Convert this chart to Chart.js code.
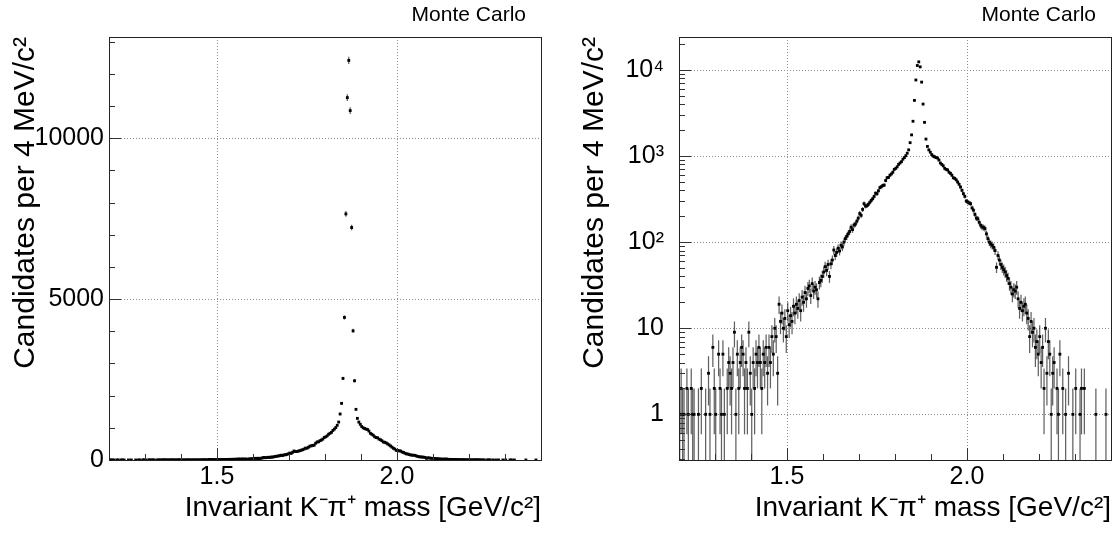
<!DOCTYPE html>
<html><head><meta charset="utf-8">
<script src="https://cdn.jsdelivr.net/npm/chart.js@4.4.1/dist/chart.umd.min.js"></script>
<style>
html,body{margin:0;padding:0;background:#fff;}
body{width:1118px;height:534px;position:relative;overflow:hidden;}
.panel{position:absolute;top:0;width:559px;height:534px;}
</style></head><body>
<div class="panel" style="left:0"><canvas id="cLin" width="559" height="534"></canvas></div>
<div class="panel" style="left:559px"><canvas id="cLog" width="559" height="534"></canvas></div>
<script>
// Histogram binning: 300 bins of 4 MeV/c^2 from 1.2 to 2.4 GeV/c^2
const massMin = 1.2, massMax = 2.4, binWidth = 0.004;
// Candidates per bin
const counts = [
  1,2,1,1,0,2,1,0,2,1,
  1,0,0,1,0,2,0,0,1,0,
  3,1,0,6,2,1,0,5,2,1,
  5,1,0,2,4,3,2,4,9,1,
  5,2,4,6,5,2,4,2,9,3,
  1,4,2,5,4,6,4,2,5,4,
  6,3,6,4,8,5,10,8,3,19,
  12,15,10,13,8,16,11,14,12,18,
  15,19,17,21,16,23,20,26,22,29,
  31,24,33,27,30,28,22,34,36,40,
  45,52,47,55,40,56,62,81,70,76,
  85,79,92,88,100,110,117,125,133,149,
  140,158,162,175,190,215,205,240,280,262,
  265,275,290,305,320,340,370,365,395,430,
  440,455,460,520,560,565,600,620,650,700,
  720,750,800,830,860,920,960,1010,1080,1180,
  1430,1761,2537,4432,7650,11266,12422,10862,7228,4016,
  2463,1575,1295,1180,1110,1040,1000,980,960,950,
  900,830,800,770,720,700,690,650,630,600,
  560,550,530,500,470,437,400,366,340,300,
  293,285,280,250,235,210,190,187,170,157,
  150,148,144,125,110,100,95,92,87,80,
  51,70,62,55,51,48,45,41,38,33,
  30,25,28,27,30,22,17,20,16,18,
  19,15,13,8,12,9,10,6,7,5,
  8,4,6,2,10,3,7,5,1,3,
  4,0,2,1,5,0,2,0,1,0,
  3,0,0,1,0,2,0,0,1,2,
  0,2,0,0,0,0,0,0,0,1,
  0,0,0,0,0,0,1,0,0,0
];
const xTickValues = [1.5, 2.0];
const xTickLabels = ['1.5', '2.0'];
const linTickValues = [0, 5000, 10000];
const linTickLabels = ['0', '5000', '10000'];
const logTickValues = [1, 10, 100, 1000, 10000];
const logTickLabels = ['1', '10', '10²', '10³', '10⁴'];
const yTitle = 'Candidates per 4 MeV/c²';
const xTitle = 'Invariant K⁻π⁺ mass [GeV/c²]';
const tagText = 'Monte Carlo';

const FONT = "'Liberation Sans', Arial, Helvetica, sans-serif";
const points = counts
  .map((n, i) => ({ x: massMin + binWidth * (i + 0.5), y: n }))
  .filter(p => p.y > 0);

function makeDecor(opt) {
  return {
    id: 'rootDecor',
    beforeDatasetsDraw(chart) {
      const { ctx, chartArea: a, scales: { x, y } } = chart;
      ctx.save();
      ctx.beginPath();
      ctx.rect(a.left, a.top, a.right - a.left, a.bottom - a.top);
      ctx.clip();
      // dotted grid at major ticks
      ctx.strokeStyle = '#8c8c8c';
      ctx.lineWidth = 1;
      ctx.setLineDash([1, 2]);
      xTickValues.forEach(v => {
        const px = Math.round(x.getPixelForValue(v)) + 0.5;
        ctx.beginPath(); ctx.moveTo(px, a.top); ctx.lineTo(px, a.bottom); ctx.stroke();
      });
      opt.yMajor.forEach(v => {
        const py = Math.round(y.getPixelForValue(v)) + 0.5;
        ctx.beginPath(); ctx.moveTo(a.left, py); ctx.lineTo(a.right, py); ctx.stroke();
      });
      ctx.setLineDash([]);
      // error bars (Poisson)
      ctx.strokeStyle = 'rgba(0,0,0,0.62)';
      ctx.lineWidth = 1.25;
      chart.data.datasets[0].data.forEach(p => {
        const e = Math.sqrt(p.y);
        const px = x.getPixelForValue(p.x);
        const lo = p.y - e;
        const y1 = lo > 0 ? y.getPixelForValue(lo) : a.bottom + 2;
        const y2 = y.getPixelForValue(p.y + e);
        ctx.beginPath(); ctx.moveTo(px, y1); ctx.lineTo(px, y2); ctx.stroke();
        const py = y.getPixelForValue(p.y);
        const xl = x.getPixelForValue(p.x - binWidth / 2), xr = x.getPixelForValue(p.x + binWidth / 2);
        ctx.beginPath(); ctx.moveTo(xl, py); ctx.lineTo(xr, py); ctx.stroke();
      });
      ctx.restore();
    },
    afterDraw(chart) {
      const { ctx, chartArea: a, scales: { x, y } } = chart;
      ctx.save();
      ctx.strokeStyle = '#333';
      ctx.lineWidth = 1;
      // x ticks (inward)
      for (let k = 13; k <= 23; k++) {
        const v = k / 10;
        const major = xTickValues.some(t => Math.abs(t - v) < 1e-9);
        const px = Math.round(x.getPixelForValue(v)) + 0.5;
        ctx.beginPath(); ctx.moveTo(px, a.bottom); ctx.lineTo(px, a.bottom - (major ? 12 : 6)); ctx.stroke();
      }
      // y ticks
      opt.yMinor(y).forEach(t => {
        const py = Math.round(y.getPixelForValue(t.v)) + 0.5;
        if (py < a.top || py > a.bottom) return;
        ctx.beginPath(); ctx.moveTo(a.left, py); ctx.lineTo(a.left + (t.major ? 12 : 6), py); ctx.stroke();
      });
      // frame
      ctx.strokeStyle = '#222';
      ctx.strokeRect(Math.round(a.left) + 0.5, Math.round(a.top) + 0.5,
        Math.round(a.right - a.left), Math.round(a.bottom - a.top));
      // label
      ctx.fillStyle = '#000';
      ctx.font = '21px ' + FONT;
      ctx.textAlign = 'right';
      ctx.textBaseline = 'alphabetic';
      ctx.fillText(tagText, opt.tagX, 21);
      ctx.restore();
    }
  };
}

function baseOptions(yScale, yWidth, rightPad, yTitlePad) {
  return {
    responsive: false,
    animation: false,
    devicePixelRatio: 1,
    events: [],
    layout: { padding: { top: 37, right: rightPad, left: 0, bottom: 0 } },
    plugins: { legend: { display: false }, tooltip: { enabled: false } },
    scales: {
      x: {
        type: 'linear', min: massMin, max: massMax,
        afterBuildTicks: s => { s.ticks = xTickValues.map(v => ({ value: v })); },
        afterFit: s => { s.height = 74; },
        grid: { display: false, drawTicks: false },
        border: { display: false },
        ticks: {
          autoSkip: false, maxRotation: 0, padding: 2, color: '#000',
          font: { family: FONT, size: 25 },
          callback: (v, i) => xTickLabels[i]
        },
        title: {
          display: true, text: xTitle, align: 'end', color: '#000',
          font: { family: FONT, size: 28 }, padding: { top: 0, bottom: 9 }
        }
      },
      y: Object.assign(yScale, {
        afterFit: s => { s.width = yWidth; },
        grid: { display: false, drawTicks: false },
        border: { display: false },
        title: {
          display: true, text: yTitle, align: 'end', color: '#000',
          font: { family: FONT, size: 30 }, padding: { top: yTitlePad, bottom: 0 }
        }
      })
    }
  };
}

const dataset = () => ({
  datasets: [{
    data: points,
    pointStyle: 'rect', pointRadius: 2, pointBorderWidth: 0,
    backgroundColor: '#000', borderColor: '#000', showLine: false
  }]
});

// Linear panel
new Chart(document.getElementById('cLin'), {
  type: 'scatter',
  data: dataset(),
  options: baseOptions({
    type: 'linear', min: 0, max: 13150,
    afterBuildTicks: s => { s.ticks = linTickValues.map(v => ({ value: v })); },
    ticks: {
      autoSkip: false, padding: 5, color: '#000',
      font: { family: FONT, size: 25 },
      callback: (v, i) => linTickLabels[i]
    }
  }, 109, 18, 8),
  plugins: [makeDecor({
    yMajor: linTickValues,
    tagX: 526,
    yMinor: () => {
      const arr = [];
      for (let k = 0; k <= 13; k++) arr.push({ v: k * 1000, major: k % 5 === 0 });
      return arr;
    }
  })]
});

// Logarithmic panel
new Chart(document.getElementById('cLog'), {
  type: 'scatter',
  data: dataset(),
  options: baseOptions({
    type: 'logarithmic', min: 0.295, max: 24150,
    afterBuildTicks: s => { s.ticks = logTickValues.map(v => ({ value: v })); },
    ticks: {
      autoSkip: false, padding: 15, color: '#000',
      font: { family: FONT, size: 25 },
      callback: (v, i) => logTickLabels[i]
    }
  }, 120, 7, 18),
  plugins: [makeDecor({
    yMajor: logTickValues,
    tagX: 537,
    yMinor: () => {
      const arr = [];
      for (let n = -1; n <= 4; n++) {
        for (let k = 1; k <= 9; k++) {
          const v = k * Math.pow(10, n);
          if (v >= 0.295 && v <= 24150) arr.push({ v, major: k === 1 });
        }
      }
      return arr;
    }
  })]
});
</script>
</body></html>
